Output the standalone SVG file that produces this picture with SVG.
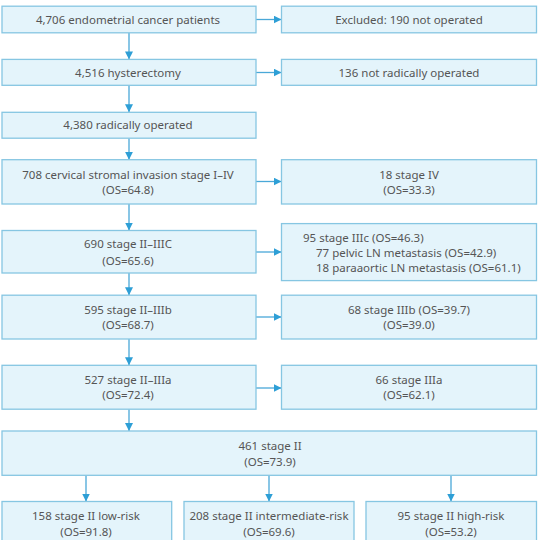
<svg xmlns="http://www.w3.org/2000/svg" width="542" height="540" viewBox="0 0 542 540">
<defs>
<style>
.box{fill:#e4f4fb;stroke:#86c6e2;stroke-width:1.3}
.t{font-family:"Noto Sans","Open Sans",sans-serif;font-size:11.5px;fill:#555;text-anchor:middle}
.tl{font-family:"Noto Sans","Open Sans",sans-serif;font-size:11.5px;fill:#555;text-anchor:start}
.c{stroke:#4aa8d8;stroke-width:1.3;fill:none}
</style>
<marker id="ah" viewBox="0 0 10 10" refX="10" refY="5" markerWidth="8" markerHeight="8" markerUnits="userSpaceOnUse" orient="auto">
<path d="M0,0 L10,5 L0,10 z" fill="#2e9fd6"/>
</marker>
</defs>
<rect width="542" height="540" fill="#ffffff"/>
<g id="connectors">
<line class="c" x1="129" y1="32.8" x2="129" y2="59.4" marker-end="url(#ah)"/>
<line class="c" x1="129" y1="85.3" x2="129" y2="112.3" marker-end="url(#ah)"/>
<line class="c" x1="129" y1="138.2" x2="129" y2="159.7" marker-end="url(#ah)"/>
<line class="c" x1="129" y1="204" x2="129" y2="230.5" marker-end="url(#ah)"/>
<line class="c" x1="129" y1="273" x2="129" y2="295.2" marker-end="url(#ah)"/>
<line class="c" x1="129" y1="339" x2="129" y2="365.3" marker-end="url(#ah)"/>
<line class="c" x1="129" y1="409.2" x2="129" y2="431" marker-end="url(#ah)"/>
<line class="c" x1="256" y1="19.5" x2="281.5" y2="19.5" marker-end="url(#ah)"/>
<line class="c" x1="256" y1="72.5" x2="281.5" y2="72.5" marker-end="url(#ah)"/>
<line class="c" x1="256" y1="181.5" x2="281.5" y2="181.5" marker-end="url(#ah)"/>
<line class="c" x1="256" y1="252" x2="281.5" y2="252" marker-end="url(#ah)"/>
<line class="c" x1="256" y1="317" x2="281.5" y2="317" marker-end="url(#ah)"/>
<line class="c" x1="256" y1="388" x2="281.5" y2="388" marker-end="url(#ah)"/>
<line class="c" x1="86" y1="475.3" x2="86" y2="501.5" marker-end="url(#ah)"/>
<line class="c" x1="269" y1="475.3" x2="269" y2="501.5" marker-end="url(#ah)"/>
<line class="c" x1="451" y1="475.3" x2="451" y2="501.5" marker-end="url(#ah)"/>
</g>
<g id="n1"><rect class="box" x="2" y="6.2" width="254" height="26.6"/><text class="t" x="128" y="23.5">4,706 endometrial cancer patients</text></g>
<g id="n1x"><rect class="box" x="281.5" y="6.2" width="255" height="26.6"/><text class="t" x="409" y="23.5">Excluded: 190 not operated</text></g>
<g id="n2"><rect class="box" x="2" y="59.4" width="254" height="25.9"/><text class="t" x="128" y="76.5">4,516 hysterectomy</text></g>
<g id="n2x"><rect class="box" x="281.5" y="59.4" width="255" height="25.9"/><text class="t" x="409" y="76.5">136 not radically operated</text></g>
<g id="n3"><rect class="box" x="2" y="112.3" width="254" height="25.9"/><text class="t" x="128" y="128.5">4,380 radically operated</text></g>
<g id="n4"><rect class="box" x="2" y="159.7" width="254" height="44.3"/><text class="t" x="128" y="178.5">708 cervical stromal invasion stage I–IV</text><text class="t" x="128" y="193.5">(OS=64.8)</text></g>
<g id="n4x"><rect class="box" x="281.5" y="159.7" width="255" height="44.3"/><text class="t" x="409" y="178.5">18 stage IV</text><text class="t" x="409" y="193.5">(OS=33.3)</text></g>
<g id="n5"><rect class="box" x="2" y="230.5" width="254" height="42.5"/><text class="t" x="128" y="248">690 stage II–IIIC</text><text class="t" x="128" y="265">(OS=65.6)</text></g>
<g id="n5x"><rect class="box" x="281.5" y="223.6" width="255" height="57"/><text class="tl" x="303" y="241.5">95 stage IIIc (OS=46.3)</text><text class="tl" x="316" y="256.5">77 pelvic LN metastasis (OS=42.9)</text><text class="tl" x="316" y="272">18 paraaortic LN metastasis (OS=61.1)</text></g>
<g id="n6"><rect class="box" x="2" y="295.2" width="254" height="43.8"/><text class="t" x="128" y="314">595 stage II–IIIb</text><text class="t" x="128" y="328.5">(OS=68.7)</text></g>
<g id="n6x"><rect class="box" x="281.5" y="295.2" width="255" height="43.8"/><text class="t" x="409" y="314">68 stage IIIb (OS=39.7)</text><text class="t" x="409" y="328.5">(OS=39.0)</text></g>
<g id="n7"><rect class="box" x="2" y="365.3" width="254" height="43.9"/><text class="t" x="128" y="384">527 stage II–IIIa</text><text class="t" x="128" y="399">(OS=72.4)</text></g>
<g id="n7x"><rect class="box" x="281.5" y="365.3" width="255" height="43.9"/><text class="t" x="409" y="384">66 stage IIIa</text><text class="t" x="409" y="399">(OS=62.1)</text></g>
<g id="n8"><rect class="box" x="2" y="431" width="534.5" height="44.3"/><text class="t" x="270" y="449.5">461 stage II</text><text class="t" x="270" y="465.5">(OS=73.9)</text></g>
<g id="n9"><rect class="box" x="2" y="501.5" width="169.7" height="45"/><text class="t" x="86" y="520">158 stage II low-risk</text><text class="t" x="86" y="535.5">(OS=91.8)</text></g>
<g id="n10"><rect class="box" x="184" y="501.5" width="170" height="45"/><text class="t" x="269" y="520">208 stage II intermediate-risk</text><text class="t" x="269" y="535.5">(OS=69.6)</text></g>
<g id="n11"><rect class="box" x="366" y="501.5" width="170.5" height="45"/><text class="t" x="451" y="520">95 stage II high-risk</text><text class="t" x="451" y="535.5">(OS=53.2)</text></g>
</svg>
